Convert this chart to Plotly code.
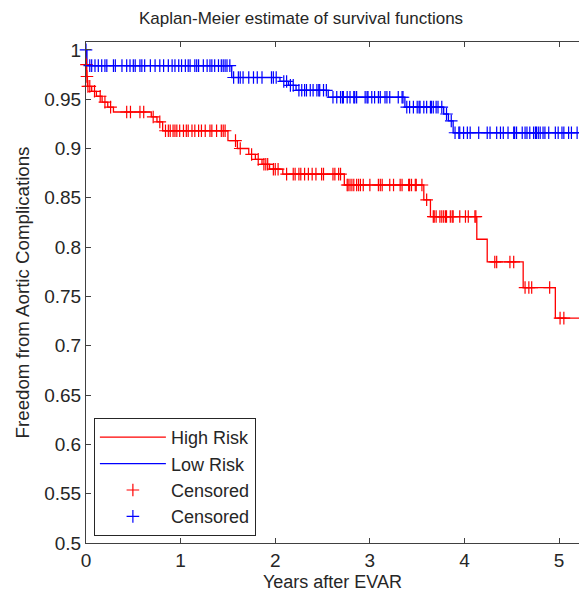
import numpy as np
import plotly.graph_objects as go

# ---- data ----
red_event_t = [0.003, 0.008, 0.015, 0.06, 0.11, 0.17, 0.23, 0.29, 0.69, 0.75, 0.81,
               1.50, 1.60, 1.72, 1.79, 1.86, 1.94, 2.08, 2.73, 3.57, 3.64, 4.13,
               4.24, 4.62, 4.96]
red_surv = [0.985, 0.973, 0.963, 0.958, 0.953, 0.947, 0.942, 0.937, 0.932, 0.927, 0.918,
            0.908, 0.900, 0.894, 0.889, 0.884, 0.879, 0.874, 0.863, 0.848, 0.831, 0.808,
            0.785, 0.759, 0.728]

blue_event_t = [0.01, 1.54, 2.05, 2.14, 2.22, 2.56, 3.37, 3.78, 3.83, 3.88]
blue_surv = [0.984, 0.972, 0.968, 0.964, 0.959, 0.952, 0.942, 0.935, 0.928, 0.916]

follow_up_end = 5.3

red_censored_t = [0.005, 0.01, 0.02, 0.04, 0.09, 0.15, 0.20, 0.26, 0.43, 0.47, 0.57, 0.61,
                  0.71, 0.78, 0.84, 0.87, 0.89, 0.92, 0.94, 0.96, 0.99, 1.03, 1.06, 1.08,
                  1.12, 1.15, 1.19, 1.22, 1.26, 1.31, 1.33, 1.38, 1.43, 1.45, 1.47, 1.58,
                  1.63, 1.75, 1.82, 1.88, 1.90, 1.92, 1.98, 2.00, 2.03, 2.12, 2.19, 2.21,
                  2.25, 2.27, 2.31, 2.35, 2.39, 2.43, 2.49, 2.51, 2.61, 2.63, 2.67, 2.69,
                  2.76, 2.77, 2.79, 2.81, 2.83, 2.86, 2.88, 2.90, 2.93, 3.00, 3.09, 3.11,
                  3.13, 3.21, 3.25, 3.32, 3.34, 3.41, 3.42, 3.44, 3.48, 3.49, 3.55, 3.60,
                  3.67, 3.68, 3.70, 3.74, 3.76, 3.78, 3.80, 3.81, 3.85, 3.87, 3.88, 3.95,
                  4.01, 4.04, 4.11, 4.12, 4.32, 4.34, 4.48, 4.52, 4.64, 4.68, 4.71, 4.90,
                  5.01, 5.05]

blue_censored_t = [0.0, 0.04, 0.06, 0.095, 0.13, 0.166, 0.20, 0.22, 0.29, 0.31, 0.38, 0.43,
                   0.465, 0.50, 0.52, 0.57, 0.59, 0.62, 0.68, 0.73, 0.78, 0.82, 0.87, 0.91,
                   0.94, 0.98, 1.01, 1.05, 1.08, 1.10, 1.15, 1.17, 1.19, 1.24, 1.28, 1.31,
                   1.33, 1.36, 1.40, 1.43, 1.45, 1.47, 1.49, 1.52,
                   1.56, 1.61, 1.63, 1.66, 1.72, 1.77, 1.81, 1.86, 1.96, 1.98, 2.01,
                   2.09, 2.12, 2.16, 2.19, 2.25, 2.28, 2.31, 2.33, 2.37, 2.40, 2.44, 2.46,
                   2.47, 2.51, 2.54,
                   2.61, 2.65, 2.69, 2.71, 2.72, 2.76, 2.79, 2.83, 2.84, 2.86, 2.95, 2.97,
                   2.98, 3.02, 3.05, 3.09, 3.11, 3.16, 3.18, 3.21, 3.30, 3.34, 3.35,
                   3.39, 3.42, 3.46, 3.50, 3.52, 3.53, 3.57, 3.60, 3.64, 3.65, 3.67, 3.70,
                   3.72, 3.76, 3.81, 3.86,
                   3.90, 3.94, 3.95, 3.99, 4.03, 4.06, 4.15, 4.24, 4.27, 4.34, 4.38, 4.41,
                   4.46, 4.52, 4.53, 4.55, 4.61, 4.64, 4.66, 4.69, 4.73, 4.75, 4.76, 4.78,
                   4.80, 4.83, 4.85, 4.89, 4.96, 4.99, 5.03, 5.05, 5.10, 5.13, 5.19]

y_tick_vals = [0.5, 0.55, 0.6, 0.65, 0.7, 0.75, 0.8, 0.85, 0.9, 0.95, 1.0]
y_tick_text = ["0.5", "0.55", "0.6", "0.65", "0.7", "0.75", "0.8", "0.85", "0.9", "0.95", "1"]
x_tick_vals = [0, 1, 2, 3, 4, 5]


def step_curve(times, surv, end):
    x = [0.0] + list(times) + [end]
    y = [1.0] + list(surv) + [surv[-1]]
    return x, y


def km_at(times, surv, t_query):
    times = np.asarray(times)
    surv = np.asarray(surv)
    idx = np.searchsorted(times, np.asarray(t_query), side="right") - 1
    return np.where(idx >= 0, surv[np.clip(idx, 0, None)], 1.0)


RED = "#FF0000"
BLUE = "#0000FF"
TXT = "#262626"
AX = "#404040"
FONT = "Liberation Sans, Arial, sans-serif"

rx, ry = step_curve(red_event_t, red_surv, follow_up_end)
bx, by = step_curve(blue_event_t, blue_surv, follow_up_end)

fig = go.Figure()
fig.add_trace(go.Scatter(x=rx, y=ry, mode="lines", line=dict(color=RED, width=1.3, shape="hv"),
                         name="High Risk"))
fig.add_trace(go.Scatter(x=bx, y=by, mode="lines", line=dict(color=BLUE, width=1.3, shape="hv"),
                         name="Low Risk"))
fig.add_trace(go.Scatter(x=red_censored_t, y=km_at(red_event_t, red_surv, red_censored_t),
                         mode="markers", cliponaxis=False,
                         marker=dict(symbol="cross-thin", size=9, color=RED,
                                     line=dict(color=RED, width=1.2)),
                         name="Censored"))
fig.add_trace(go.Scatter(x=blue_censored_t, y=km_at(blue_event_t, blue_surv, blue_censored_t),
                         mode="markers", cliponaxis=False,
                         marker=dict(symbol="cross-thin", size=9, color=BLUE,
                                     line=dict(color=BLUE, width=1.2)),
                         name="Censored"))

fig.update_layout(
    width=579, height=598,
    margin=dict(l=86, r=0, t=42, b=55, autoexpand=False),
    paper_bgcolor="white", plot_bgcolor="white",
    font=dict(family=FONT, size=18, color=TXT),
    title=dict(text="Kaplan-Meier estimate of survival functions", x=0.52, xanchor="center",
               yref="container", y=0.97, yanchor="middle", automargin=False,
               font=dict(size=17, color=TXT)),
    xaxis=dict(range=[0, 5.21], tickvals=x_tick_vals, ticks="inside", ticklen=5,
               tickcolor=AX, showline=True, linecolor=AX, linewidth=1,
               mirror="ticks", showgrid=False, zeroline=False, automargin=False,
               title=dict(text="Years after EVAR", font=dict(size=18), standoff=5),
               tickfont=dict(size=19)),
    yaxis=dict(range=[0.5, 1.008], tickvals=y_tick_vals, ticktext=y_tick_text,
               ticks="inside", ticklen=5, tickcolor=AX, showline=True,
               linecolor=AX, linewidth=1, mirror=False, showgrid=False, zeroline=False,
               automargin=False,
               title=dict(text="Freedom from Aortic Complications", font=dict(size=18.7),
                          standoff=9),
               tickfont=dict(size=19)),
    legend=dict(x=0.016, y=0.014, xanchor="left", yanchor="bottom",
                bgcolor="white", bordercolor="#262626", borderwidth=1,
                font=dict(size=18, color=TXT), tracegroupgap=0, itemwidth=66),
    showlegend=True,
)

fig.write_html("out.html", config={"displayModeBar": False},
               post_script="document.body.style.margin='0';")
